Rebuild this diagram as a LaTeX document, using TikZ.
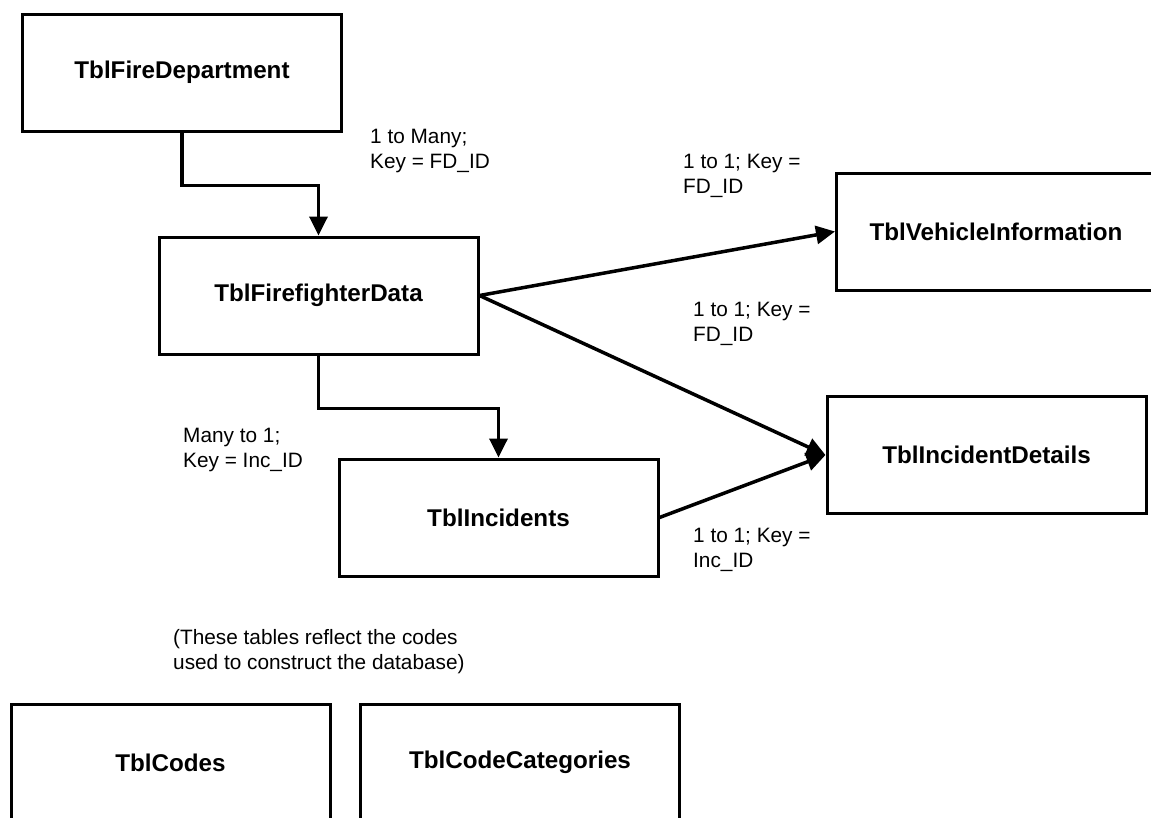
\documentclass[tikz,border=0pt]{standalone}
\usepackage{fontspec}
\setmainfont{Liberation Sans}
\usetikzlibrary{arrows.meta}
\begin{document}
\begin{tikzpicture}[x=1pt,y=-1pt,
  tbl/.style={draw, line width=3pt, minimum width=319pt, minimum height=117pt, inner sep=0pt, font=\fontsize{24.2}{29}\selectfont\bfseries},
  conn/.style={line width=3.5pt, -{Triangle[length=19pt,width=18pt]}},
  lbl/.style={anchor=west, align=left, inner sep=0pt, font=\fontsize{20.8}{25}\selectfont}]
\useasboundingbox (0,0) rectangle (1151,817);
\node[tbl] (tbl0) at (182,72.5){TblFireDepartment};
\node[tbl] (tbl1) at (318.5,295.5){TblFirefighterData};
\node[tbl] (tbl2) at (996,231.5){TblVehicleInformation};
\node[tbl] (tbl3) at (986.5,455){TblIncidentDetails};
\node[tbl] (tbl4) at (498.5,517.5){TblIncidents};
\node[tbl] (tbl5) at (170.5,762.5){TblCodes};
\node[tbl] (tbl6) at (520,762.5){TblCodeCategories};
\draw[conn] (tbl0.south) -- ++(0,53) -| (tbl1.north);
\draw[conn] (tbl1.south) -- ++(0,53) -| (tbl4.north);
\draw[conn] (tbl1.east) -- (tbl2.west);
\draw[conn] (tbl1.east) -- (tbl3.west);
\draw[conn] (tbl4.east) -- (tbl3.west);
\node[lbl] (lbl0) at (370,151){1 to Many;\\Key = FD\_ID};
\node[lbl] (lbl1) at (683,175.5){1 to 1; Key =\\FD\_ID};
\node[lbl] (lbl2) at (693,323.5){1 to 1; Key =\\FD\_ID};
\node[lbl] (lbl3) at (183,450){Many to 1;\\Key = Inc\_ID};
\node[lbl] (lbl4) at (693,550){1 to 1; Key =\\Inc\_ID};
\node[lbl] (note) at (173,652){(These tables reflect the codes\\used to construct the database)};
\end{tikzpicture}
\end{document}
